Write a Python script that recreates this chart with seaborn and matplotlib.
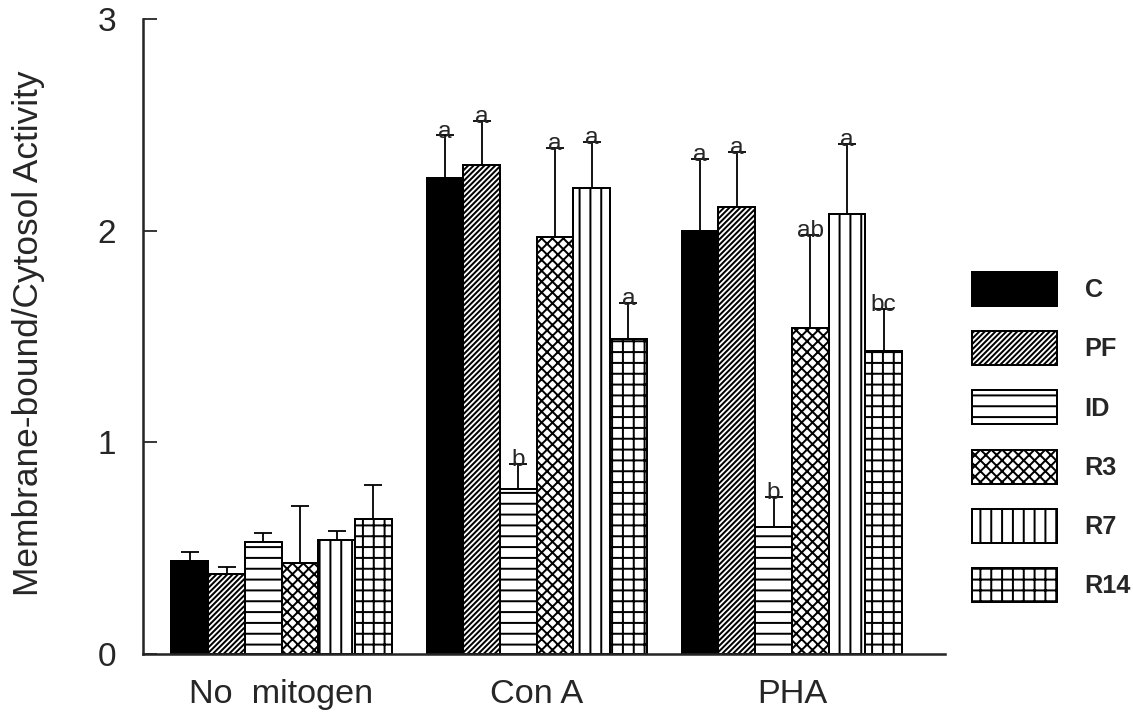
import pandas as pd
import numpy as np
import matplotlib.pyplot as plt
import seaborn as sns

# ---- data ----
conditions = ["No  mitogen", "Con A", "PHA"]
groups = ["C", "PF", "ID", "R3", "R7", "R14"]

# membrane-bound / cytosol activity (mean)
no_mitogen = [0.44, 0.38, 0.53, 0.43, 0.54, 0.64]
con_a = [2.25, 2.31, 0.78, 1.97, 2.20, 1.49]
pha = [2.00, 2.11, 0.60, 1.54, 2.08, 1.43]

# upper error bars
no_mitogen_err = [0.04, 0.03, 0.04, 0.27, 0.04, 0.16]
con_a_err = [0.20, 0.21, 0.12, 0.42, 0.22, 0.17]
pha_err = [0.34, 0.26, 0.14, 0.44, 0.33, 0.20]

# significance letters (none for the no mitogen group)
no_mitogen_sig = ["", "", "", "", "", ""]
con_a_sig = ["a", "a", "b", "a", "a", "a"]
pha_sig = ["a", "a", "b", "ab", "a", "bc"]

hatches = ["", "////////", "--", "xxxx", "||", "++"]
palette = {"C": "black", "PF": "white", "ID": "white",
           "R3": "white", "R7": "white", "R14": "white"}

df = pd.DataFrame({
    "condition": np.repeat(conditions, len(groups)),
    "group": groups * len(conditions),
    "ratio": no_mitogen + con_a + pha,
    "err": no_mitogen_err + con_a_err + pha_err,
    "sig": no_mitogen_sig + con_a_sig + pha_sig,
})

# ---- plot ----
sns.set_style("ticks")
plt.rcParams["font.family"] = ["Liberation Sans", "DejaVu Sans"]
plt.rcParams["hatch.linewidth"] = 1.1

DPI = 130
fig = plt.figure(figsize=(1133 / DPI, 719 / DPI), dpi=DPI)
ax = fig.add_axes([143 / 1133, 1 - 654 / 719, (945 - 143) / 1133, (654 - 19) / 719])

sns.barplot(data=df, x="condition", y="ratio", hue="group",
            order=conditions, hue_order=groups, palette=palette,
            width=0.863, errorbar=None, edgecolor="black", linewidth=1.1,
            legend=False, ax=ax)

bar_conts = list(ax.containers)
for i, (grp, cont) in enumerate(zip(groups, bar_conts)):
    sub = df[df["group"] == grp].set_index("condition").loc[conditions]
    xs = [p.get_x() + p.get_width() / 2 for p in cont.patches]
    for p in cont.patches:
        p.set_hatch(hatches[i])
    ax.errorbar(xs, sub["ratio"], yerr=[np.zeros(len(xs)), sub["err"]],
                fmt="none", ecolor="black", elinewidth=1.0,
                capsize=5, capthick=1.0, zorder=3)
    for x, top, s in zip(xs, sub["ratio"] + sub["err"], sub["sig"]):
        if s:
            ax.text(x, top - 0.01, s, ha="center", va="baseline",
                    fontsize=13.5, zorder=4)

ax.set_ylim(0, 3)
ax.set_xlim(-0.543, 2.6)
ax.set_yticks([0, 1, 2, 3])
ax.tick_params(axis="y", direction="in", length=8, width=1.0,
               labelsize=18.5, pad=15)
ax.tick_params(axis="x", length=0, labelsize=19, pad=14)
ax.set_xlabel("")
ax.set_ylabel("Membrane-bound/Cytosol Activity", fontsize=19.5)
ax.yaxis.set_label_coords(-0.122, 0.505)
sns.despine(ax=ax)
for sp in ["left", "bottom"]:
    ax.spines[sp].set_linewidth(1.4)

handles = [cont.patches[0] for cont in bar_conts]
fig.legend(handles, groups, loc="upper left",
           bbox_to_anchor=(972 / 1133, 1 - 272 / 719),
           frameon=False, borderpad=0, borderaxespad=0,
           handlelength=3.36, handleheight=1.69, labelspacing=1.0,
           handletextpad=1.1, prop={"weight": "bold", "size": 14})

plt.savefig("out.png", dpi=DPI)
